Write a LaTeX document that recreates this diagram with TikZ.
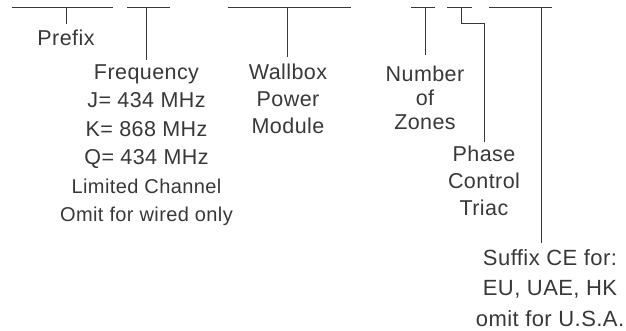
\documentclass[tikz,border=0pt]{standalone}
\usepackage{fontspec}
\setmainfont[LetterSpace=2]{Liberation Sans}
\usepackage{xcolor}
\usetikzlibrary{positioning}
\definecolor{ink}{HTML}{383838}
\newcommand\smallpart{\fontsize{20}{28}\selectfont}

\begin{document}
\begin{tikzpicture}[x=1pt,y=-1pt,line width=1pt,draw=ink,text=ink,
  partlabel/.style={anchor=north,inner sep=0pt,align=center,font=\fontsize{21.5}{28.5}\selectfont}]
  \useasboundingbox (0,0) rectangle (626,331);
  % blanks of the part number
  \foreach \n/\a/\b/\t in {prefix/12/113/66, freq/127/170/146, wallbox/228/351/287,
    zones/411/435/425, triac/447/472/461, suffix/489/552/541}
  {\draw (\a,8) -- (\b,8);
   \coordinate (\n-tick) at (\t,8);}
  \node[partlabel] (prefix) at (66,29) {Prefix};
  \node[partlabel] (freq) at (146.5,64) {Frequency\\J= 434 MHz\\K= 868 MHz\\Q= 434 MHz\\
    {\smallpart Limited Channel}\\{\smallpart Omit for wired only}};
  \node[partlabel,font=\fontsize{21.5}{27}\selectfont] (wallbox) at (288,63) {Wallbox\\Power\\Module};
  \node[partlabel,font=\fontsize{21.5}{24}\selectfont] (zones) at (425,65) {Number\\of\\Zones};
  \node[partlabel,font=\fontsize{21.5}{27}\selectfont] (triac) at (484,145) {Phase\\Control\\Triac};
  \node[partlabel,font=\fontsize{22}{30.5}\selectfont] (suffix) at (550,249) {Suffix CE for:\\EU, UAE, HK\\omit for U.S.A.};
  \draw (prefix-tick) -- ([yshift=5pt]prefix-tick |- prefix.north);
  \draw (freq-tick) -- ([yshift=4pt]freq-tick |- freq.north);
  \draw (wallbox-tick) -- ([yshift=6pt]wallbox-tick |- wallbox.north);
  \draw (zones-tick) -- ([yshift=10pt]zones-tick |- zones.north);
  \draw (triac-tick) -- ++(0,16) -| ([yshift=3pt]triac.north);
  \draw (suffix-tick) -- ([yshift=6pt]suffix-tick |- suffix.north);
\end{tikzpicture}
\end{document}
